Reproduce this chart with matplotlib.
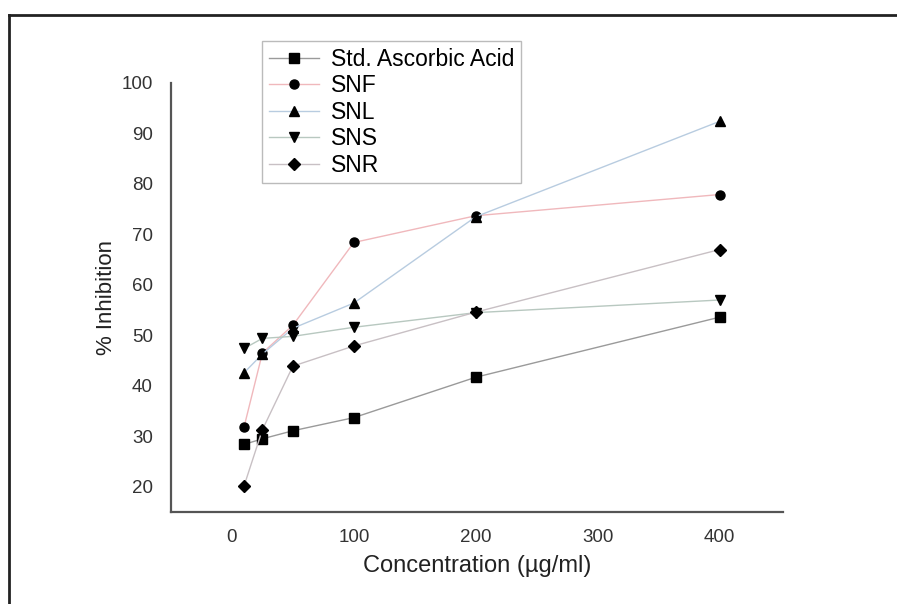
import matplotlib
matplotlib.use('Agg')
import matplotlib.pyplot as plt
from matplotlib.lines import Line2D

plt.rcParams['font.family'] = ['Liberation Sans', 'DejaVu Sans']

conc = [10, 25, 50, 100, 200, 400]  # ug/ml
std_aa = [28.4, 29.5, 31.1, 33.7, 41.7, 53.6]
snf = [31.9, 46.5, 52.0, 68.4, 73.7, 77.9]
snl = [42.6, 46.3, 51.4, 56.4, 73.5, 92.4]
sns = [47.4, 49.4, 49.8, 51.6, 54.5, 57.0]
snr = [20.2, 31.3, 43.9, 47.9, 54.6, 67.0]

xticks = [0, 100, 200, 300, 400]
yticks = [20, 30, 40, 50, 60, 70, 80, 90, 100]


def main():
    fig = plt.figure(figsize=(8.97, 6.04), dpi=100)
    ax = fig.add_axes([0.1906, 0.1523, 0.6823, 0.7103])

    # serie: (dati, marker, colore linea, etichetta)
    series = [
        (std_aa, 's', '#9a9a9a', 'Std. Ascorbic Acid'),
        (snf, 'o', '#f0b8bc', 'SNF'),
        (snl, '^', '#b8cce0', 'SNL'),
        (sns, 'v', '#b8c8c0', 'SNS'),
        (snr, 'D', '#c8c0c4', 'SNR'),
    ]
    for y, m, c, lab in series:
        ms = 6.2 if m == 'D' else 6.5
        ax.plot(conc, y, color=c, lw=1.0, marker=m, ms=ms,
                mfc='black', mec='black', label=lab)

    ax.set_xlim(-50, 452)
    ax.set_ylim(15, 100)
    ax.set_xticks(xticks)
    ax.set_yticks(yticks)
    ax.tick_params(length=0, labelsize=13.5, labelcolor='#333333', pad=12)
    ax.tick_params(axis='y', pad=13)

    for s in ['top', 'right']:
        ax.spines[s].set_visible(False)
    for s in ['left', 'bottom']:
        ax.spines[s].set_color('#555555')
        ax.spines[s].set_linewidth(1.6)

    ax.set_xlabel("Concentration (\u00b5g/ml)", fontsize=17, color='#222222', labelpad=7)
    ax.set_ylabel("% Inhibition", fontsize=16, color='#222222', labelpad=3)

    leg = ax.legend(loc='upper left', bbox_to_anchor=(0.1487, 1.098), borderaxespad=0,
                    fontsize=16.5, frameon=True, fancybox=False, handlelength=2.2,
                    handletextpad=0.5, labelspacing=0.15, borderpad=0.3)
    leg.get_frame().set_edgecolor('#aaaaaa')
    leg.get_frame().set_linewidth(1.0)

    # cornice esterna (solo bordo sopra e sinistra, il resto e' tagliato)
    fig.add_artist(Line2D([0.010, 1.0], [0.975, 0.975], transform=fig.transFigure,
                          color='#222222', lw=2.0))
    fig.add_artist(Line2D([0.010, 0.010], [0.0, 0.975], transform=fig.transFigure,
                          color='#222222', lw=2.0))

    fig.savefig('out.png', dpi=100)


if __name__ == "__main__":
    main()
